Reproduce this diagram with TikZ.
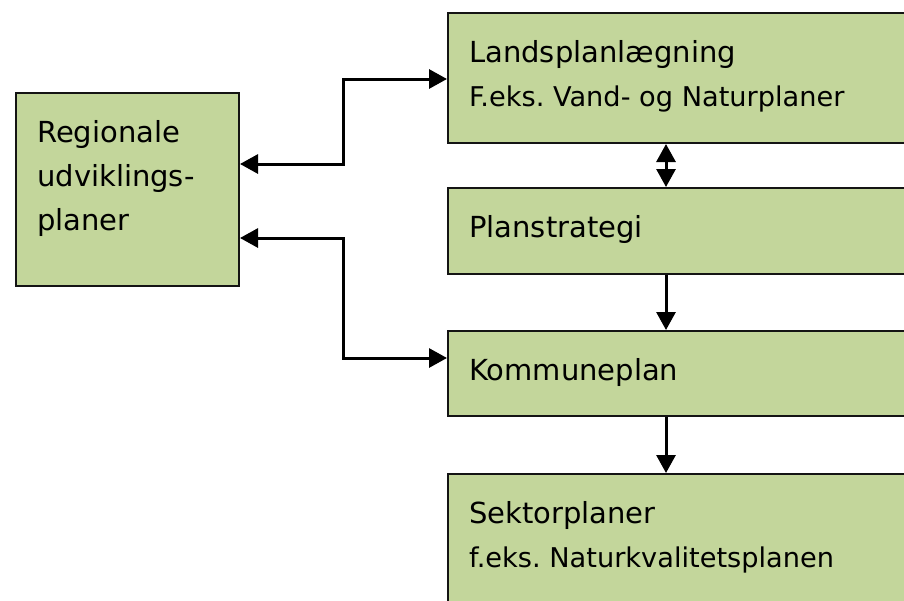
\documentclass[tikz,border=0pt]{standalone}
\usepackage{fontspec}
\setmainfont{DejaVu Sans}
\usetikzlibrary{arrows.meta,calc}
\frenchspacing
\definecolor{boxfill}{RGB}{195,214,155}
\definecolor{boxline}{RGB}{20,20,20}
\tikzset{
  planbox/.style={draw=boxline,line width=2pt,fill=boxfill,rectangle,anchor=north west,inner sep=0pt},
  bigtxt/.style={anchor=base west,inner sep=0pt,font=\fontsize{29}{34}\selectfont},
  smalltxt/.style={anchor=base west,inner sep=0pt,font=\fontsize{27.2}{32}\selectfont},
  conn/.style={line width=3pt,draw=black,{Triangle[length=18pt,width=19pt]}-{Triangle[length=18pt,width=19pt]}},
  conn1/.style={line width=3pt,draw=black,-{Triangle[length=18pt,width=19pt]}}
}
\begin{document}
\begin{tikzpicture}[x=1pt,y=-1pt]
\useasboundingbox (0,0) rectangle (904,600);
\clip (0,0) rectangle (904,600);
% boxes
\node[planbox,minimum width=223pt,minimum height=193pt] (reg) at (15,92) {};
\node[planbox,minimum width=480pt,minimum height=130pt] (land) at (447,12) {};
\node[planbox,minimum width=480pt,minimum height=86pt] (plan) at (447,187) {};
\node[planbox,minimum width=480pt,minimum height=85pt] (komm) at (447,330) {};
\node[planbox,minimum width=480pt,minimum height=150pt] (sekt) at (447,473) {};
% texts
\node[bigtxt] (t1) at (37,142) {Regionale};
\node[bigtxt] (t2) at (37,186) {udviklings-};
\node[bigtxt] (t3) at (37,230) {planer};
\node[bigtxt] (t4) at (469,62) {Landsplanlægning};
\node[smalltxt] (t5) at (469,106) {F.eks. Vand- og Naturplaner};
\node[bigtxt] (t6) at (469,237) {Planstrategi};
\node[bigtxt] (t7) at (469,380) {Kommuneplan};
\node[bigtxt] (t8) at (469,523) {Sektorplaner};
\node[smalltxt] (t9) at (469,567) {f.eks. Naturkvalitetsplanen};
% helper coordinates
\coordinate (cx) at (666,0);
\coordinate (mx) at (343,0);
\coordinate (ya) at (0,164);
\coordinate (yb) at (0,79);
\coordinate (yc) at (0,238);
\coordinate (yd) at (0,358);
% connectors
\draw[conn] (land.south -| cx) -- (plan.north -| cx);
\draw[conn1] (plan.south -| cx) -- (komm.north -| cx);
\draw[conn1] (komm.south -| cx) -- (sekt.north -| cx);
\draw[conn] (reg.east |- ya) -- (mx |- ya) -- (mx |- yb) -- (land.west |- yb);
\draw[conn] (reg.east |- yc) -- (mx |- yc) -- (mx |- yd) -- (komm.west |- yd);
\end{tikzpicture}
\end{document}
